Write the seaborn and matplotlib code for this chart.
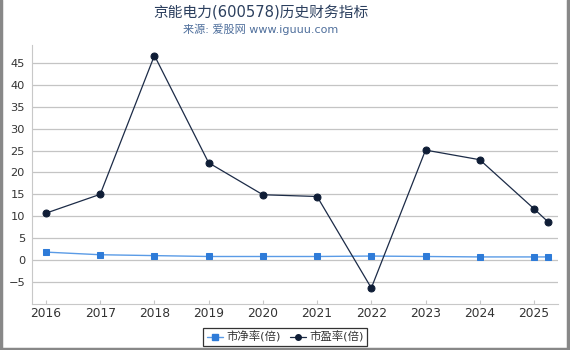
import matplotlib
matplotlib.use("Agg")
import matplotlib.pyplot as plt
import seaborn as sns
import pandas as pd
from matplotlib.lines import Line2D

# ---------------------------------------------------------------------
# Data
# ---------------------------------------------------------------------
years = [2016, 2017, 2018, 2019, 2020, 2021, 2022, 2023, 2024, 2025, 2025.26]
pb_values = [1.8, 1.2, 1.0, 0.8, 0.8, 0.8, 0.9, 0.8, 0.7, 0.7, 0.7]
pe_values = [10.7, 15.0, 46.7, 22.2, 14.9, 14.5, -6.4, 25.1, 22.9, 11.7, 8.7]
year_ticks = [2016, 2017, 2018, 2019, 2020, 2021, 2022, 2023, 2024, 2025]
y_ticks = [-5, 0, 5, 10, 15, 20, 25, 30, 35, 40, 45]

title = "京能电力(600578)历史财务指标"
subtitle = "来源: 爱股网 www.iguuu.com"
pb_label = "市净率(倍)"
pe_label = "市盈率(倍)"

PB_LINE = "#5a9be6"
PB_MARK = "#2e7bd8"
PE_LINE = "#1c2b47"
PE_MARK = "#0f1d36"

sns.set_style("white")
plt.rcParams["font.family"] = ["DejaVu Sans", "Noto Sans CJK SC"]

df = pd.DataFrame({"year": years, "pb": pb_values, "pe": pe_values})

fig = plt.figure(figsize=(5.7, 3.5), dpi=100)
ax = fig.add_axes([32 / 570, 1 - 304 / 350, 526 / 570, 259 / 350])

sns.lineplot(data=df, x="year", y="pb", ax=ax, color=PB_LINE, lw=1.0,
             marker="s", markersize=4.5, markerfacecolor=PB_MARK,
             markeredgecolor=PB_MARK, zorder=3)
sns.lineplot(data=df, x="year", y="pe", ax=ax, color=PE_LINE, lw=0.9,
             marker="o", markersize=5, markerfacecolor=PE_MARK,
             markeredgecolor=PE_MARK, zorder=4)

ax.set_xlim(2015.742, 2025.443)
ax.set_ylim(-10.05, 49.1)
ax.set_xticks(year_ticks)
ax.set_xticklabels([str(y) for y in year_ticks])
ax.set_yticks(y_ticks)
ax.set_xlabel("")
ax.set_ylabel("")
ax.yaxis.grid(True, color="#c4c4c4", lw=0.9)
ax.xaxis.grid(False)

for side in ("top", "right"):
    ax.spines[side].set_visible(False)
ax.spines["left"].set_color("#c8c8c8")
ax.spines["bottom"].set_color("#c8c8c8")
ax.tick_params(axis="y", length=0, labelsize=8.2, labelcolor="#333333", pad=5)
ax.tick_params(axis="x", direction="in", length=3, color="#c8c8c8",
               labelsize=8.8, labelcolor="#333333", pad=2, bottom=True)

fig.text(261 / 570, 1 - 12 / 350, title, ha="center", va="center",
         fontsize=10.6, color="#2b3f5e")
fig.text(261 / 570, 1 - 29 / 350, subtitle, ha="center", va="center",
         fontsize=8.0, color="#4f6f9c")

handles = [
    Line2D([], [], color=PB_LINE, marker="s", markersize=4,
           markerfacecolor=PB_MARK, markeredgecolor=PB_MARK, lw=1.0),
    Line2D([], [], color=PE_LINE, marker="o", markersize=4,
           markerfacecolor=PE_MARK, markeredgecolor=PE_MARK, lw=0.9),
]
leg = fig.legend(handles, [pb_label, pe_label], loc="center",
                 bbox_to_anchor=(285 / 570, 1 - 337 / 350), ncol=2,
                 fontsize=8.2, frameon=True, fancybox=False,
                 handlelength=1.4, handletextpad=0.3, columnspacing=0.8,
                 borderpad=0.3)
leg.get_frame().set_edgecolor("#000000")
leg.get_frame().set_linewidth(0.9)
for t in leg.get_texts():
    t.set_color("#333333")

# figure frame (left, right, bottom)
for xs, ys in (([0.002, 0.002], [0, 1]), ([0.996, 0.996], [0, 1]),
               ([0, 1], [0.004, 0.004])):
    fig.add_artist(Line2D(xs, ys, transform=fig.transFigure,
                          color="#888888", lw=2.5))

fig.savefig("out.png", dpi=100)
